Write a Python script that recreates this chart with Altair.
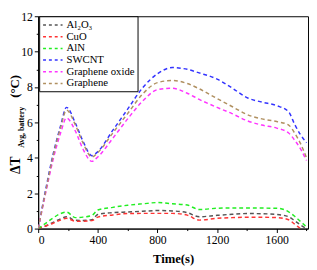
import altair as alt
import pandas as pd

series_names = ["Al₂O₃", "CuO", "AlN", "SWCNT", "Graphene oxide", "Graphene"]
series_colors = ["#555555", "#ff3333", "#22ee22", "#3333ff", "#ff33ff", "#b09060"]

time_s = [0, 50, 100, 150, 190, 250, 300, 360, 400, 500, 600, 700, 800, 900,
          1000, 1080, 1200, 1300, 1400, 1500, 1600, 1680, 1720, 1760, 1800]

al2o3 = [0, 0.15, 0.35, 0.55, 0.67, 0.47, 0.46, 0.5, 0.8, 0.9, 0.94, 0.98, 1.02, 1.0,
         0.9, 0.67, 0.75, 0.81, 0.85, 0.84, 0.8, 0.67, 0.45, 0.2, 0.0]
cuo = [0, 0.15, 0.3, 0.48, 0.58, 0.42, 0.42, 0.45, 0.65, 0.77, 0.85, 0.86, 0.86, 0.86,
       0.76, 0.48, 0.58, 0.62, 0.64, 0.64, 0.62, 0.5, 0.25, 0.0, None]
aln = [0, 0.3, 0.6, 0.85, 0.93, 0.62, 0.65, 0.74, 1.05, 1.2, 1.32, 1.4, 1.47, 1.4,
       1.33, 1.08, 1.15, 1.17, 1.17, 1.16, 1.15, 0.95, 0.7, 0.4, 0.1]
swcnt = [0, 2.2, 4.2, 5.8, 6.85, 5.95, 4.95, 4.12, 4.35, 5.55, 6.75, 7.95, 8.75, 9.1,
         9.0, 8.8, 8.45, 7.95, 7.4, 7.15, 6.95, 6.6, 5.9, 5.3, 4.85]
graphene_oxide = [0, 2.0, 3.9, 5.4, 6.25, 5.5, 4.5, 3.8, 4.05, 5.1, 6.2, 7.2, 7.85, 7.93,
                  7.65, 7.3, 6.85, 6.5, 6.1, 5.85, 5.68, 5.4, 5.0, 4.5, 3.85]
graphene = [0, 2.1, 4.1, 5.7, 6.7, 5.85, 4.85, 4.05, 4.3, 5.4, 6.5, 7.6, 8.25, 8.37,
            8.2, 7.9, 7.35, 6.9, 6.45, 6.2, 6.05, 5.85, 5.4, 4.8, 4.0]

x_ticks = list(range(0, 1801, 200))
y_ticks = list(range(0, 13))
x_title = "Time(s)"
y_title_main = ["ΔT"]
y_title_sub = ["Avg, battery"]
y_title_unit = ["(°C)"]

all_vals = [al2o3, cuo, aln, swcnt, graphene_oxide, graphene]
rows = []
for name, vals in zip(series_names, all_vals):
    for t, v in zip(time_s, vals):
        if v is not None:
            rows.append({"t": t, "v": v, "series": name})
df = pd.DataFrame(rows)

FONT = "Liberation Serif"

lines = alt.Chart(df).mark_line(
    strokeWidth=1.5, strokeDash=[4, 3], interpolate="monotone", clip=True
).encode(
    x=alt.X("t:Q", scale=alt.Scale(domain=[0, 1810], nice=False, zero=False),
            axis=alt.Axis(values=x_ticks, title=x_title,
                          labelExpr="datum.value % 400 === 0 ? datum.label : ''",
                          tickSize={"condition": {"test": "datum.value % 400 === 0", "value": 4}, "value": 2},
                          format="d")),
    y=alt.Y("v:Q", scale=alt.Scale(domain=[0, 12], nice=False),
            axis=alt.Axis(values=y_ticks, title=None,
                          labelExpr="datum.value % 2 === 0 ? datum.label : ''",
                          tickSize={"condition": {"test": "datum.value % 2 === 0", "value": 4}, "value": 2})),
    color=alt.Color("series:N",
                    scale=alt.Scale(domain=series_names, range=series_colors),
                    sort=series_names,
                    legend=alt.Legend(title=None, orient="none", legendX=1, legendY=0,
                                      symbolType="M-1,0L3,0", symbolDash=[3, 3],
                                      symbolStrokeWidth=1.5, symbolSize=100,
                                      labelFont=FONT, labelFontSize=11, labelColor="black",
                                      labelOffset=13, rowPadding=1,
                                      strokeColor="black", fillColor="white",
                                      padding=3)),
    detail="series:N",
)

def title_text(txt, xv, yv, size):
    return alt.Chart(pd.DataFrame({"s": txt})).mark_text(
        angle=270, align="center", baseline="middle", font=FONT,
        fontWeight="bold", fontSize=size, color="black"
    ).encode(text="s:N", x=alt.value(xv), y=alt.value(yv))

chart = alt.layer(
    lines,
    title_text(y_title_main, -23, 153, 14),
    title_text(y_title_sub, -17, 114, 8),
    title_text(y_title_unit, -24, 72, 13),
).properties(
    width=277, height=218,
    autosize=alt.AutoSizeParams(type="none"),
    padding={"left": 31, "top": 5, "right": 1, "bottom": 38},
).configure_view(
    stroke="black", strokeWidth=1
).configure_axis(
    domainColor="black", tickColor="black", labelColor="black",
    labelFont=FONT, labelFontSize=12, titleFont=FONT, titleFontSize=13,
    titleFontWeight="bold", titleColor="black", grid=False, labelPadding=2,
    titlePadding=8,
)

chart.save("out.html", embed_options={"renderer": "svg", "actions": False})
